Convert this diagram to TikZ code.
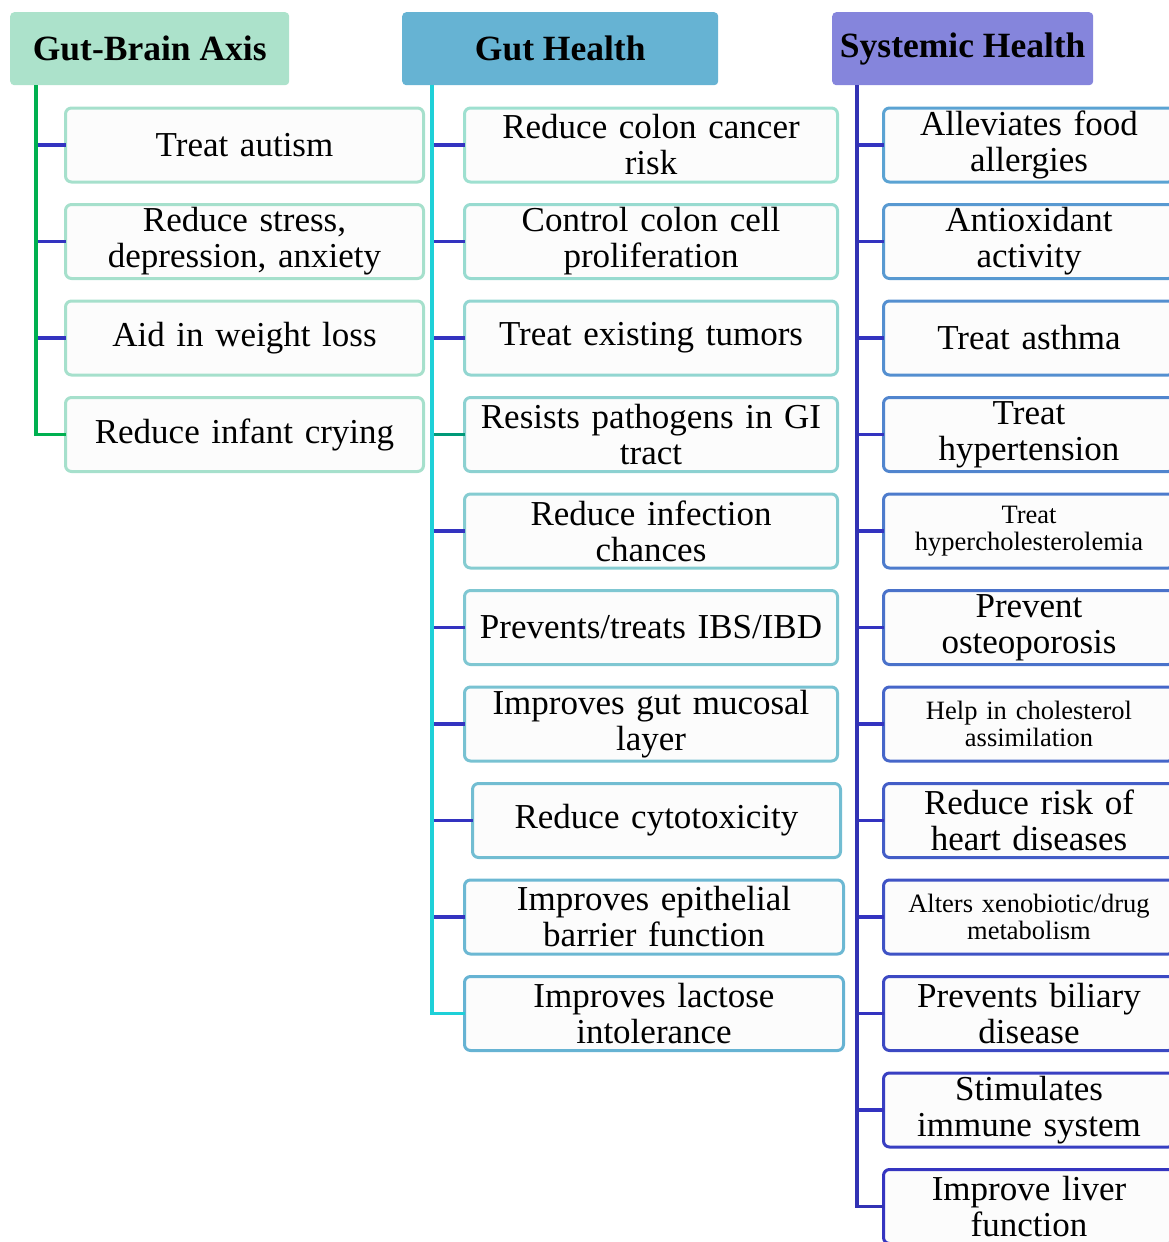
\documentclass[tikz,border=0pt]{standalone}
\usepackage{fontspec}
\setmainfont{Liberation Serif}
\usepackage{xcolor}
\usepackage{tikz}
\usetikzlibrary{positioning}
\definecolor{gbhead}  {RGB}{172,226,203}
\definecolor{ghhead}  {RGB}{102,179,211}
\definecolor{shhead}  {RGB}{133,133,220}
\definecolor{gbline}  {RGB}{0,176,80}
\definecolor{ghline}  {RGB}{30,208,216}
\definecolor{shline}  {RGB}{50,50,180}
\definecolor{stubblue}{RGB}{51,51,192}
\definecolor{stubteal}{RGB}{0,153,120}
\definecolor{gbedge}  {RGB}{166,224,204}
\definecolor{ghtop}   {RGB}{158,224,208}
\definecolor{ghbot}   {RGB}{102,179,211}
\definecolor{shtop}   {RGB}{91,163,211}
\definecolor{shbot}   {RGB}{53,53,192}
\definecolor{boxfill} {RGB}{252,252,252}
\tikzset{
  headbox/.style={rounded corners=4pt, anchor=north west, inner sep=0pt,
                  minimum width=#1, minimum height=73pt,
                  font=\fontsize{35.5}{38}\selectfont\bfseries},
  itembox/.style={draw, line width=3pt, rounded corners=6pt, fill=boxfill,
                  align=center, text width=#1, minimum height=74pt,
                  inner sep=0pt, outer sep=0pt,
                  font=\fontsize{35}{36}\selectfont},
  gbbox/.style  ={itembox=358pt, draw=gbedge},
  ghbox/.style  ={itembox=#1},
  ghbox/.default=373pt,
  shbox/.style  ={itembox=291pt},
  smalltxt/.style={font=\fontsize{26.5}{27}\selectfont},
  trunk/.style  ={line width=3.5pt},
  stub/.style   ={line width=3.5pt, draw=stubblue},
}
\begin{document}
\begin{tikzpicture}[x=1pt,y=-1pt,node distance=22.5pt]
  \clip (0,0) rectangle (1169,1242);
  %% column heads
  \node[headbox=279pt, fill=gbhead] (gbhead) at (10,12)  {Gut-Brain Axis};
  \node[headbox=316pt, fill=ghhead] (ghhead) at (402,12) {Gut Health};
  \node[headbox=261pt, fill=shhead] (shhead) at (832,12) {Systemic Health};
  \coordinate (gbroot) at ([xshift=26pt]gbhead.south west);
  \coordinate (ghroot) at ([xshift=30pt]ghhead.south west);
  \coordinate (shroot) at ([xshift=25pt]shhead.south west);
  %% gut-brain axis
  \node[gbbox] (gb1) at (244.5,145) {Treat autism};
  \node[gbbox, below=of gb1] (gb2) {Reduce stress,\\ depression, anxiety};
  \node[gbbox, below=of gb2] (gb3) {Aid in weight loss};
  \node[gbbox, below=of gb3] (gb4) {Reduce infant crying};
  %% gut health
  \node[ghbox, draw=ghbot!0!ghtop]   (gh1) at (651,145) {Reduce colon cancer\\ risk};
  \node[ghbox, draw=ghbot!11!ghtop, below=of gh1] (gh2) {Control colon cell\\ proliferation};
  \node[ghbox, draw=ghbot!22!ghtop, below=of gh2] (gh3) {Treat existing tumors};
  \node[ghbox, draw=ghbot!33!ghtop, below=of gh3] (gh4) {Resists pathogens in GI\\ tract};
  \node[ghbox, draw=ghbot!44!ghtop, below=of gh4] (gh5) {Reduce infection\\ chances};
  \node[ghbox, draw=ghbot!56!ghtop, below=of gh5] (gh6) {Prevents/treats IBS/IBD};
  \node[ghbox, draw=ghbot!67!ghtop, below=of gh6] (gh7) {Improves gut mucosal\\ layer};
  \node[ghbox=368pt, draw=ghbot!78!ghtop, below=of gh7, xshift=5.5pt] (gh8) {Reduce cytotoxicity};
  \node[ghbox=379pt, draw=ghbot!89!ghtop, below=of gh8, xshift=-2.5pt] (gh9) {Improves epithelial\\ barrier function};
  \node[ghbox=379pt, draw=ghbot!100!ghtop, below=of gh9] (gh10) {Improves lactose\\ intolerance};
  %% systemic health
  \node[shbox, draw=shbot!0!shtop]   (sh1) at (1029,145) {Alleviates food\\ allergies};
  \node[shbox, draw=shbot!9!shtop,  below=of sh1] (sh2) {Antioxidant\\ activity};
  \node[shbox, draw=shbot!18!shtop, below=of sh2] (sh3) {Treat asthma};
  \node[shbox, draw=shbot!27!shtop, below=of sh3] (sh4) {Treat\\ hypertension};
  \node[shbox, smalltxt, draw=shbot!36!shtop, below=of sh4] (sh5) {Treat\\ hypercholesterolemia};
  \node[shbox, draw=shbot!45!shtop, below=of sh5] (sh6) {Prevent\\ osteoporosis};
  \node[shbox, smalltxt, draw=shbot!55!shtop, below=of sh6] (sh7) {Help in cholesterol\\ assimilation};
  \node[shbox, draw=shbot!64!shtop, below=of sh7] (sh8) {Reduce risk of\\ heart diseases};
  \node[shbox, smalltxt, draw=shbot!73!shtop, below=of sh8] (sh9) {Alters xenobiotic/drug\\ metabolism};
  \node[shbox, draw=shbot!82!shtop, below=of sh9] (sh10) {Prevents biliary\\ disease};
  \node[shbox, draw=shbot!91!shtop, below=of sh10] (sh11) {Stimulates\\ immune system};
  \node[shbox, draw=shbot!100!shtop, below=of sh11] (sh12) {Improve liver\\ function};
  %% connectors
  \draw[stub] (gb1.west) -- (gb1.west -| gbroot);
  \draw[stub] (gb2.west) -- (gb2.west -| gbroot);
  \draw[stub] (gb3.west) -- (gb3.west -| gbroot);
  \draw[trunk, draw=gbline] (gbroot) |- (gb4.west);
  \draw[stub] (gh1.west) -- (gh1.west -| ghroot);
  \draw[stub] (gh2.west) -- (gh2.west -| ghroot);
  \draw[stub] (gh3.west) -- (gh3.west -| ghroot);
  \draw[stub, draw=stubteal] (gh4.west) -- (gh4.west -| ghroot);
  \draw[stub] (gh5.west) -- (gh5.west -| ghroot);
  \draw[stub] (gh6.west) -- (gh6.west -| ghroot);
  \draw[stub] (gh7.west) -- (gh7.west -| ghroot);
  \draw[stub] (gh8.west) -- (gh8.west -| ghroot);
  \draw[stub] (gh9.west) -- (gh9.west -| ghroot);
  \draw[trunk, draw=ghline] (ghroot) |- (gh10.west);
  \draw[stub] (sh1.west) -- (sh1.west -| shroot);
  \draw[stub] (sh2.west) -- (sh2.west -| shroot);
  \draw[stub] (sh3.west) -- (sh3.west -| shroot);
  \draw[stub] (sh4.west) -- (sh4.west -| shroot);
  \draw[stub] (sh5.west) -- (sh5.west -| shroot);
  \draw[stub] (sh6.west) -- (sh6.west -| shroot);
  \draw[stub] (sh7.west) -- (sh7.west -| shroot);
  \draw[stub] (sh8.west) -- (sh8.west -| shroot);
  \draw[stub] (sh9.west) -- (sh9.west -| shroot);
  \draw[stub] (sh10.west) -- (sh10.west -| shroot);
  \draw[stub] (sh11.west) -- (sh11.west -| shroot);
  \draw[trunk, draw=shline] (shroot) |- (sh12.west);
\end{tikzpicture}
\end{document}
